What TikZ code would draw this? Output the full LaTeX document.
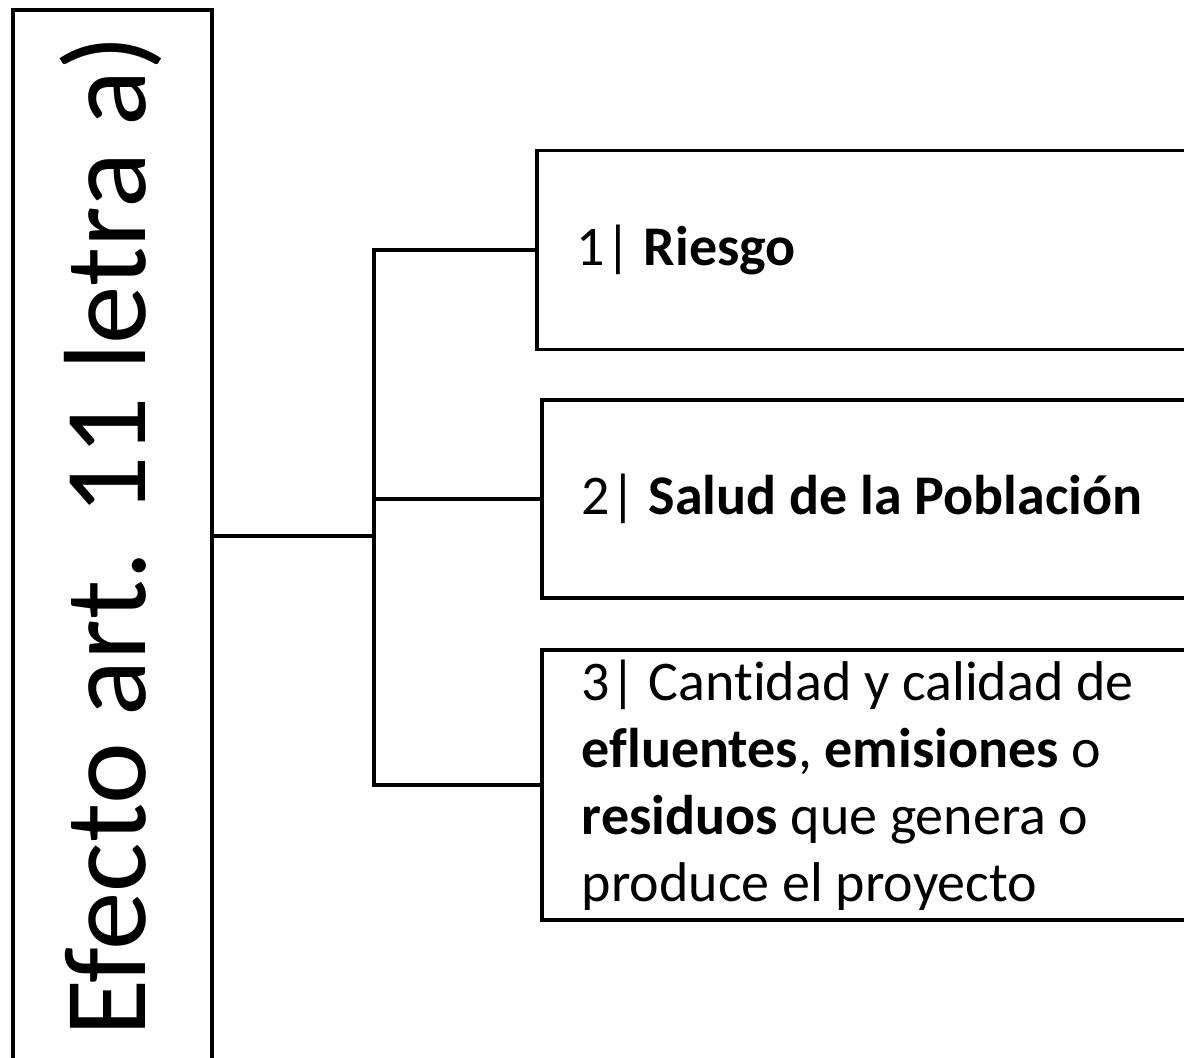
\documentclass[tikz,border=0pt]{standalone}
\usepackage{fontspec}
\setmainfont{Carlito}[Ligatures=CommonOff]
\begin{document}
\begin{tikzpicture}[x=1pt,y=-1pt,
  boxline/.style={draw=black,line width=3.8pt},
  conn/.style={draw=black,line width=3.6pt},
  itembox/.style={boxline,rectangle,anchor=west,inner xsep=40pt,inner ysep=0pt,
    text width=640pt,align=flush left,font=\fontsize{56}{67}\selectfont},
  vtext/.style={rotate=90,anchor=base west,inner sep=0pt,font=\fontsize{117}{120}\selectfont}]
\useasboundingbox (0,0) rectangle (1184,1058);
\clip (0,0) rectangle (1184,1058);
\fill[white] (0,0) rectangle (1184,1058);
% left box
\node[boxline,rectangle,minimum width=199pt,minimum height=1080pt,inner sep=0pt] (left) at (112.5,550) {};
\node[vtext] (ltext) at (145,1037) {Efecto art. 11 letra a)};
% right boxes
\node[itembox,minimum height=199pt] (b1) at (535,250) {1| \textbf{Riesgo}};
\node[itembox,minimum height=198pt] (b2) at (540,499) {2| \textbf{Salud de la Población}};
\node[itembox,minimum height=270pt] (b3) at (540,785) {3| Cantidad y calidad de\\\textbf{efluentes}, \textbf{emisiones} o\\\textbf{residuos} que genera o\\produce el proyecto};
% connectors
\coordinate (j) at (374,536);
\draw[conn] (left.east |- j) -- (j);
\draw[conn] (b1.west) -- (b1.west -| j) -- (b3.west -| j) -- (b3.west);
\draw[conn] (b2.west) -- (b2.west -| j);
\end{tikzpicture}
\end{document}
